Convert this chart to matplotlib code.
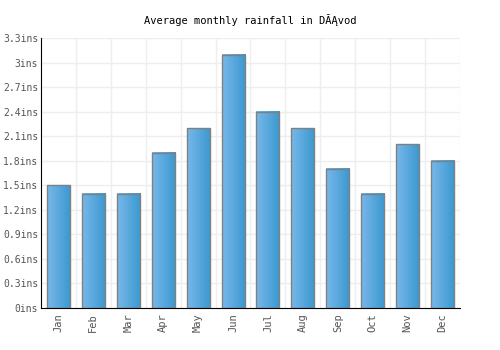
import numpy as np
from matplotlib import pyplot as plt
from matplotlib.colors import LinearSegmentedColormap

months = ["Jan", "Feb", "Mar", "Apr", "May", "Jun", "Jul", "Aug", "Sep", "Oct", "Nov", "Dec"]
rainfall = [1.5, 1.4, 1.4, 1.9, 2.2, 3.1, 2.4, 2.2, 1.7, 1.4, 2.0, 1.8]
yticks = [0, 0.3, 0.6, 0.9, 1.2, 1.5, 1.8, 2.1, 2.4, 2.7, 3, 3.3]
ylabels = ["0ins", "0.3ins", "0.6ins", "0.9ins", "1.2ins", "1.5ins", "1.8ins",
           "2.1ins", "2.4ins", "2.7ins", "3ins", "3.3ins"]
title = "Average monthly rainfall in D\u0102\u0104vod"

plt.rcParams['font.family'] = ['DejaVu Sans Mono']

fig = plt.figure(figsize=(5, 3.5), dpi=100)
ax = fig.add_axes([0.082, 0.12, 0.838, 0.771])

x = np.arange(len(months))
bars = ax.bar(x, rainfall, width=0.66, color="none", edgecolor="#808080", linewidth=1, zorder=3)

# left-to-right gradient inside every bar
cmap = LinearSegmentedColormap.from_list("grad", ["#78b8ea", "#3a98cf"])
grad = np.linspace(0, 1, 64).reshape(1, -1)
for b in bars:
    x0, w, h = b.get_x(), b.get_width(), b.get_height()
    ax.imshow(grad, cmap=cmap, aspect="auto", extent=(x0, x0 + w, 0, h), zorder=2)

ax.set_xlim(-0.5, len(months) - 0.5)
ax.set_ylim(0, 3.3)
ax.set_xticks(x)
ax.set_xticklabels(months, rotation=90, fontsize=7.5, color="#555555")
ax.set_yticks(yticks)
ax.set_yticklabels(ylabels, fontsize=7, color="#555555")
ax.set_xticks(x + 0.5, minor=True)
ax.tick_params(which="both", length=0)
ax.tick_params(axis="y", pad=2)
ax.grid(True, which="minor", axis="x", color="#eeeeee", linewidth=1, zorder=0)
ax.grid(True, which="major", axis="y", color="#eeeeee", linewidth=1, zorder=0)
ax.set_axisbelow(True)
for s in ["top", "right"]:
    ax.spines[s].set_visible(False)

fig.text(0.5, 0.943, title, ha="center", va="center", fontsize=7.5, color="black")

fig.savefig("out.png", dpi=100)
